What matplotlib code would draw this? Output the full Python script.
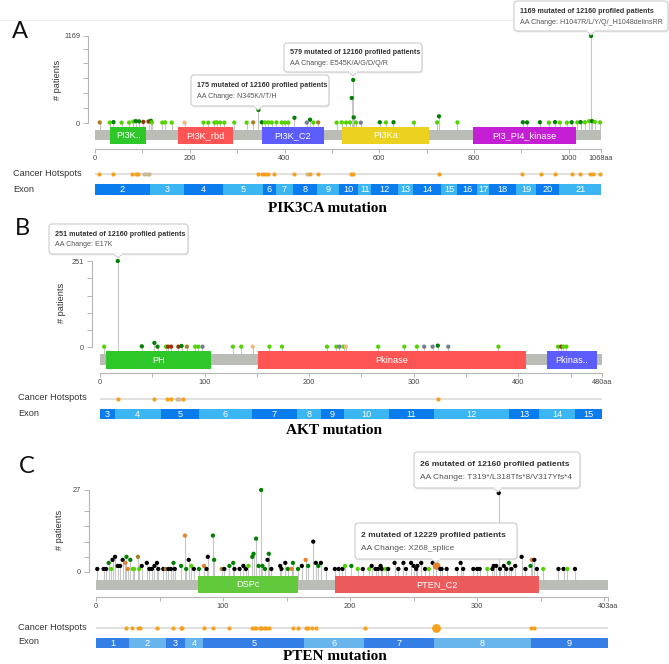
import matplotlib
matplotlib.use('Agg')
import matplotlib.pyplot as plt
from matplotlib.patches import FancyBboxPatch, Polygon

plt.rcParams['font.family'] = ['Liberation Sans', 'DejaVu Sans']

# mutation type colours (cBioPortal style)
COL = {'g': '#008000', 'lg': '#53d400', 'k': '#000000', 'gy': '#708090',
       'br': '#993404', 'tn': '#a68028', 'or': '#e5802b', 'pc': '#f0b87b'}
HOT = '#f7a11a'
HOT_TAN = '#cdb894'

# ---------------- PIK3CA ----------------
pik_len = 1068
pik_pos = [10, 31, 39, 56, 72, 81, 86, 93, 102, 113, 118, 120, 142, 148, 162, 189, 229, 239, 252, 257,
           264, 273, 294, 320, 334, 345, 352, 359, 366, 373, 383, 394, 401, 408, 421, 447, 454, 461, 471, 510,
           521, 530, 538, 542, 545, 546, 551, 561, 601, 614, 630, 673, 722, 726, 765, 903, 912, 939, 958, 971,
           981, 996, 1006, 1018, 1025, 1034, 1043, 1047, 1049, 1055, 1066]
pik_cnt = [8, 6, 12, 5, 6, 20, 25, 22, 15, 20, 30, 8, 6, 8, 6, 5, 6, 5, 6, 8,
           6, 5, 6, 5, 8, 175, 10, 8, 8, 6, 8, 6, 5, 6, 70, 6, 45, 6, 8, 5,
           8, 6, 8, 336, 579, 76, 6, 5, 10, 8, 10, 5, 8, 90, 8, 10, 8, 10, 5, 12,
           6, 5, 10, 8, 12, 10, 25, 1169, 25, 15, 8]
pik_typ = ['tn', 'lg', 'g', 'lg', 'lg', 'lg', 'g', 'g', 'br', 'br', 'g', 'lg', 'lg', 'lg', 'lg', 'pc', 'lg', 'lg', 'lg', 'lg',
           'lg', 'lg', 'lg', 'lg', 'tn', 'g', 'g', 'lg', 'lg', 'lg', 'lg', 'lg', 'lg', 'lg', 'g', 'gy', 'g', 'lg', 'tn', 'lg',
           'lg', 'lg', 'lg', 'g', 'g', 'g', 'lg', 'gy', 'g', 'lg', 'g', 'lg', 'lg', 'g', 'lg', 'g', 'g', 'g', 'lg', 'g',
           'lg', 'lg', 'g', 'lg', 'g', 'lg', 'lg', 'g', 'g', 'lg', 'lg']
pik_dom_name = ['PI3K..', 'PI3K_rbd', 'PI3K_C2', 'PI3Ka', 'PI3_PI4_kinase']
pik_dom_start = [32, 176, 352, 521, 798]
pik_dom_end = [108, 291, 483, 705, 1015]
pik_dom_col = ['#2ec72a', '#ff5454', '#5c5cff', '#ead21e', '#c41fd4']
pik_hot = [9, 39, 79, 86, 91, 345, 352, 359, 366, 378, 420, 454, 471, 540, 545, 727,
           902, 941, 971, 1006, 1024, 1045, 1052, 1066]
pik_hot_tan = [104, 109, 114, 447]
pik_exon_bounds = [0, 116, 188, 271, 354, 381, 417, 468, 514, 556, 583, 640, 672, 730, 765,
                   806, 832, 889, 931, 980, 1068]
pik_exon_num = list(range(2, 22))
pik_xticks = list(range(0, 1001, 100)) + [1068]
pik_xlabels = ['0', '', '200', '', '400', '', '600', '', '800', '', '1000', '1068aa']
pik_yticks = [0, 200, 400, 600, 800, 1000, 1169]

# ---------------- AKT ----------------
akt_len = 480
akt_pos = [4, 17, 40, 52, 55, 63, 65, 68, 75, 78, 83, 91, 94, 98, 127, 135, 146, 162, 174, 217,
           226, 229, 233, 235, 266, 291, 303, 310, 318, 323, 333, 381, 438, 441, 443, 446]
akt_cnt = [1, 251, 2, 12, 1, 1, 1, 1, 1, 3, 1, 1, 1, 1, 1, 1, 1, 1, 1, 1,
           1, 1, 1, 1, 1, 1, 1, 1, 1, 4, 1, 1, 1, 1, 1, 1]
akt_typ = ['lg', 'g', 'g', 'g', 'g', 'lg', 'br', 'br', 'br', 'g', 'tn', 'lg', 'lg', 'gy', 'lg', 'lg', 'pc', 'lg', 'lg', 'lg',
           'lg', 'gy', 'lg', 'pc', 'lg', 'lg', 'lg', 'gy', 'gy', 'g', 'gy', 'lg', 'lg', 'br', 'lg', 'lg']
akt_dom_name = ['PH', 'Pkinase', 'Pkinas..']
akt_dom_start = [6, 151, 427]
akt_dom_end = [106, 407, 475]
akt_dom_col = ['#2ec72a', '#ff5454', '#5c5cff']
akt_hot = [17, 52, 64, 68, 79, 323]
akt_hot_tan = [74, 76]
akt_exon_bounds = [0, 14, 58, 95, 145, 188, 211, 233, 276, 319, 391, 420, 454, 480]
akt_exon_num = list(range(3, 16))
akt_xticks = list(range(0, 451, 50)) + [480]
akt_xlabels = ['0', '', '100', '', '200', '', '300', '', '400', '', '480aa']
akt_yticks = [0, 50, 100, 150, 200, 251]

# ---------------- PTEN ----------------
pten_len = 403
pten_pos = [1, 6, 8, 10, 12, 13, 15, 17, 19, 21, 23, 24, 25, 27, 29, 30, 33, 34, 36, 40,
            42, 44, 46, 48, 49, 53, 55, 57, 59, 61, 62, 67, 70, 71, 73, 75, 77, 81, 85, 87,
            88, 92, 93, 99, 101, 105, 108, 109, 113, 116, 118, 120, 123, 124, 126, 128, 130, 131, 133, 135,
            136, 138, 145, 146, 149, 151, 154, 155, 159, 162, 165, 167, 171, 173, 175, 177, 181, 188, 191, 194,
            196, 201, 206, 210, 215, 217, 220, 222, 224, 225, 228, 230, 235, 238, 242, 244, 248, 250, 252, 253,
            256, 259, 262, 265, 268, 271, 272, 276, 284, 287, 289, 297, 300, 302, 308, 312, 313, 315, 317, 318,
            321, 323, 325, 327, 330, 335, 338, 342, 343, 345, 347, 352, 364, 368, 371, 377]
pten_cnt = [1, 1, 1, 3, 1, 4, 5, 2, 2, 4, 3, 5, 1, 4, 1, 1, 5, 1, 2, 3,
            1, 1, 2, 3, 1, 1, 1, 1, 1, 3, 1, 2, 12, 1, 4, 2, 1, 1, 2, 1,
            5, 12, 4, 1, 1, 2, 3, 1, 1, 2, 1, 2, 5, 6, 11, 2, 27, 2, 1, 4,
            6, 1, 2, 1, 3, 1, 1, 3, 1, 2, 4, 2, 10, 3, 2, 3, 1, 1, 1, 1,
            2, 2, 1, 1, 1, 2, 1, 1, 2, 1, 1, 1, 3, 1, 3, 1, 3, 2, 1, 2,
            3, 1, 1, 3, 2, 1, 1, 1, 1, 3, 1, 1, 1, 1, 1, 1, 2, 2, 26, 1,
            2, 1, 3, 1, 2, 5, 1, 2, 4, 4, 1, 1, 1, 1, 1, 1]
pten_typ = ['k', 'k', 'k', 'g', 'lg', 'k', 'k', 'k', 'k', 'k', 'or', 'g', 'or', 'g', 'lg', 'lg', 'tn', 'lg', 'k', 'k',
            'k', 'k', 'k', 'k', 'k', 'k', 'tn', 'k', 'k', 'g', 'k', 'g', 'or', 'g', 'k', 'lg', 'k', 'g', 'or', 'k',
            'k', 'g', 'g', 'tn', 'k', 'g', 'g', 'k', 'k', 'k', 'k', 'lg', 'g', 'g', 'g', 'g', 'g', 'g', 'g', 'k',
            'g', 'k', 'k', 'k', 'k', 'g', 'or', 'g', 'g', 'k', 'or', 'g', 'k', 'k', 'g', 'k', 'k', 'k', 'k', 'k',
            'lg', 'g', 'lg', 'k', 'lg', 'k', 'k', 'k', 'k', 'k', 'lg', 'k', 'k', 'k', 'k', 'k', 'k', 'k', 'k', 'k',
            'k', 'k', 'lg', 'k', 'or', 'k', 'k', 'k', 'k', 'k', 'k', 'k', 'k', 'k', 'lg', 'k', 'k', 'k', 'k', 'k',
            'k', 'k', 'g', 'k', 'k', 'k', 'k', 'g', 'or', 'k', 'k', 'lg', 'k', 'k', 'lg', 'k']
pten_sel = 268
pten_dom_name = ['DSPc', 'PTEN_C2']
pten_dom_start = [80, 188]
pten_dom_end = [159, 349]
pten_dom_col = ['#63c93c', '#ec5b5b']
pten_hot = [24, 28, 33, 35, 48, 61, 67, 68, 85, 92, 105, 123, 124, 126, 129, 130, 132, 134, 136,
            155, 159, 165, 167, 170, 173, 212, 342, 345]
pten_hot_tan = []
pten_exon_bounds = [0, 26, 55, 70, 84.5, 164, 211, 266, 342, 403]
pten_exon_num = list(range(1, 10))
pten_xticks = list(range(0, 401, 50)) + [403]
pten_xlabels = ['0', '', '100', '', '200', '', '300', '', '', '403aa']
pten_yticks = [0, 5, 10, 15, 20, 27]

W, H = 669, 664
PT = 0.72  # points per pixel at dpi 100
fig = plt.figure(figsize=(W / 100, H / 100), dpi=100)


def box(x0, y0, x1, y1):
    return [x0 / W, 1 - y1 / H, (x1 - x0) / W, (y1 - y0) / H]


def panel(g, pos, cnt, typ, length, yticks, xticks, xlabels, dname, dstart, dend, dcol,
          hot, hot_tan, ebounds, enum, edark, elight, sel=None):
    ymax = yticks[-1]
    # lollipops
    ax = fig.add_axes(box(g['x0'], g['top'], g['x1'], g['bar_top']))
    scale = (g['base'] - g['top']) / ymax
    y0 = -(g['bar_top'] - g['base']) / scale
    ax.set_xlim(0, length)
    ax.set_ylim(y0, ymax)
    ax.patch.set_visible(False)
    for s in ['top', 'right', 'bottom']:
        ax.spines[s].set_visible(False)
    ax.spines['left'].set_position(('outward', (g['x0'] - g['yax']) * PT))
    ax.spines['left'].set_bounds(0, ymax)
    ax.spines['left'].set_color('#b5b5b5')
    ax.set_xticks([])
    ax.set_yticks(yticks)
    ax.set_yticklabels(['0'] + [''] * (len(yticks) - 2) + [str(ymax)])
    ax.tick_params(axis='y', length=5 * PT, width=0.7, color='#b5b5b5', pad=2,
                   labelsize=5.3, labelcolor='#444444')
    ax.vlines(pos, y0, cnt, color='#c6c6c6', lw=0.8, zorder=1)
    sizes = [30 if p == sel else 9.5 for p in pos]
    ax.scatter(pos, cnt, s=sizes, c=[COL[t] for t in typ], lw=0, zorder=3, clip_on=False)

    # protein bar + domains + x axis
    bx = fig.add_axes(box(g['x0'], g['dom_top'], g['x1'], g['dom_bot']))
    bx.set_xlim(0, length)
    bx.set_ylim(g['dom_bot'], g['dom_top'])
    bx.patch.set_visible(False)
    bx.broken_barh([(0, length)], (g['bar_top'], g['bar_bot'] - g['bar_top']), facecolors='#babdb6')
    for n, s, e, c in zip(dname, dstart, dend, dcol):
        bx.broken_barh([(s, e - s)], (g['dom_top'], g['dom_bot'] - g['dom_top']), facecolors=c)
        bx.text((s + e) / 2, (g['dom_top'] + g['dom_bot']) / 2 + 0.3, n, color='white',
                ha='center', va='center', fontsize=6.6)
    for s in ['top', 'right', 'left']:
        bx.spines[s].set_visible(False)
    bx.spines['bottom'].set_position(('outward', (g['axis_y'] - g['dom_bot']) * PT))
    bx.spines['bottom'].set_bounds(0, length)
    bx.spines['bottom'].set_color('#b5b5b5')
    bx.set_yticks([])
    bx.set_xticks(xticks)
    bx.set_xticklabels(xlabels)
    bx.tick_params(axis='x', length=3.5 * PT, width=0.7, color='#b5b5b5', pad=1.5,
                   labelsize=5.3, labelcolor='#444444')

    # hotspots
    hx = fig.add_axes(box(g['x0'], g['hot_y'] - 5, g['x1'], g['hot_y'] + 5))
    hx.set_xlim(0, length)
    hx.set_ylim(0, 1)
    hx.axis('off')
    hx.axhline(0.5, color='#dddddd', lw=1.3, zorder=1)
    hx.scatter(hot_tan, [0.5] * len(hot_tan), s=9, c=HOT_TAN, lw=0, zorder=2, clip_on=False)
    hx.scatter(hot, [0.5] * len(hot), s=9, c=HOT, lw=0, zorder=3, clip_on=False)
    if sel is not None:
        hx.scatter([sel], [0.5], s=40, c=HOT, lw=0, zorder=3, clip_on=False)

    # exons
    ex = fig.add_axes(box(g['x0'], g['ex_top'], g['x1'], g['ex_bot']))
    ex.set_xlim(0, length)
    ex.set_ylim(0, 1)
    ex.axis('off')
    for i, (s, e) in enumerate(zip(ebounds[:-1], ebounds[1:])):
        ex.broken_barh([(s, e - s)], (0, 1), facecolors=edark if i % 2 == 0 else elight)
        ex.text((s + e) / 2, 0.48, str(enum[i]), color='white', ha='center', va='center', fontsize=6.6)


geo_a = dict(x0=95, x1=601, top=36, base=123, bar_top=130, bar_bot=140, dom_top=127, dom_bot=144,
             axis_y=149, yax=88, hot_y=174, ex_top=184, ex_bot=195)
geo_b = dict(x0=100, x1=602, top=261, base=347, bar_top=354, bar_bot=365, dom_top=351, dom_bot=369,
             axis_y=373, yax=92, hot_y=399, ex_top=409, ex_bot=419)
geo_c = dict(x0=96, x1=608, top=490, base=572, bar_top=580, bar_bot=590, dom_top=576, dom_bot=593,
             axis_y=597, yax=89, hot_y=628, ex_top=638, ex_bot=648)

panel(geo_a, pik_pos, pik_cnt, pik_typ, pik_len, pik_yticks, pik_xticks, pik_xlabels,
      pik_dom_name, pik_dom_start, pik_dom_end, pik_dom_col, pik_hot, pik_hot_tan,
      pik_exon_bounds, pik_exon_num, '#0a7ced', '#3cb6f3')
panel(geo_b, akt_pos, akt_cnt, akt_typ, akt_len, akt_yticks, akt_xticks, akt_xlabels,
      akt_dom_name, akt_dom_start, akt_dom_end, akt_dom_col, akt_hot, akt_hot_tan,
      akt_exon_bounds, akt_exon_num, '#0a7ced', '#3cb6f3')
panel(geo_c, pten_pos, pten_cnt, pten_typ, pten_len, pten_yticks, pten_xticks, pten_xlabels,
      pten_dom_name, pten_dom_start, pten_dom_end, pten_dom_col, pten_hot, pten_hot_tan,
      pten_exon_bounds, pten_exon_num, '#347fe6', '#68b5ee', sel=pten_sel)

# overlay for labels and tooltips (pixel coordinates)
ov = fig.add_axes([0, 0, 1, 1])
ov.set_xlim(0, W)
ov.set_ylim(H, 0)
ov.axis('off')
ov.set_zorder(10)
ov.plot([0, W], [20, 20], color='#eeeeee', lw=0.8, zorder=0)


def tooltip(x0, y0, x1, y1, l1, l2, fs, tip):
    ov.add_patch(FancyBboxPatch((x0 + 1, y0 + 1.5), x1 - x0, y1 - y0,
                                boxstyle='round,pad=0,rounding_size=3', fc='black', alpha=0.07, lw=0))
    ov.add_patch(FancyBboxPatch((x0, y0), x1 - x0, y1 - y0,
                                boxstyle='round,pad=0,rounding_size=3', fc='white', ec='#cccccc', lw=0.8))
    ov.add_patch(Polygon([(tip - 4, y1), (tip + 4, y1), (tip, y1 + 4)], closed=True,
                         fc='white', ec='#cccccc', lw=0.8))
    ov.plot([tip - 3.4, tip + 3.4], [y1, y1], color='white', lw=1.2)
    h = y1 - y0
    ov.text(x0 + 6, y0 + h * 0.34, l1, fontsize=fs, fontweight='bold', color='#333333', va='center')
    ov.text(x0 + 6, y0 + h * 0.7, l2, fontsize=fs, color='#555555', va='center')


tooltip(514, 1, 668, 31, '1169 mutated of 12160 profiled patients',
        'AA Change: H1047R/L/Y/Q/_H1048delinsRR', 5.1, 591)
tooltip(284, 43, 422, 72, '579 mutated of 12160 profiled patients',
        'AA Change: E545K/A/G/D/Q/R', 5.1, 353)
tooltip(191, 75, 329, 106, '175 mutated of 12160 profiled patients',
        'AA Change: N345K/I/T/H', 5.1, 258)
tooltip(49, 224, 188, 254, '251 mutated of 12160 profiled patients',
        'AA Change: E17K', 5.1, 118)
tooltip(414, 452, 580, 488, '26 mutated of 12160 profiled patients',
        'AA Change: T319*/L318Tfs*8/V317Yfs*4', 6.0, 498)
tooltip(355, 523, 517, 559, '2 mutated of 12229 profiled patients',
        'AA Change: X268_splice', 6.0, 436)

for letter, x, y in [('A', 12, 38), ('B', 15, 235), ('C', 19, 473)]:
    ov.text(x, y, letter, fontsize=17, family=['Lato', 'DejaVu Sans'], color='#111111', va='baseline')

for t, x, y in [('PIK3CA mutation', 327, 208), ('AKT mutation', 334, 431), ('PTEN mutation', 335, 657)]:
    ov.text(x, y, t, fontsize=11, family='Liberation Serif', fontweight='bold', ha='center', va='center')

for x, y in [(57, 80), (61, 303), (59, 530)]:
    ov.text(x, y, '# patients', rotation=90, fontsize=6.6, color='#333333', ha='center', va='center')

for x, y1, y2 in [(13, 174, 190), (18, 398, 413), (18, 627, 642)]:
    ov.text(x, y1, 'Cancer Hotspots', fontsize=6.6, color='#333333', va='center')
    ov.text(x, y2, 'Exon', fontsize=6.6, color='#333333', va='center')

fig.savefig('out.png', dpi=100)
